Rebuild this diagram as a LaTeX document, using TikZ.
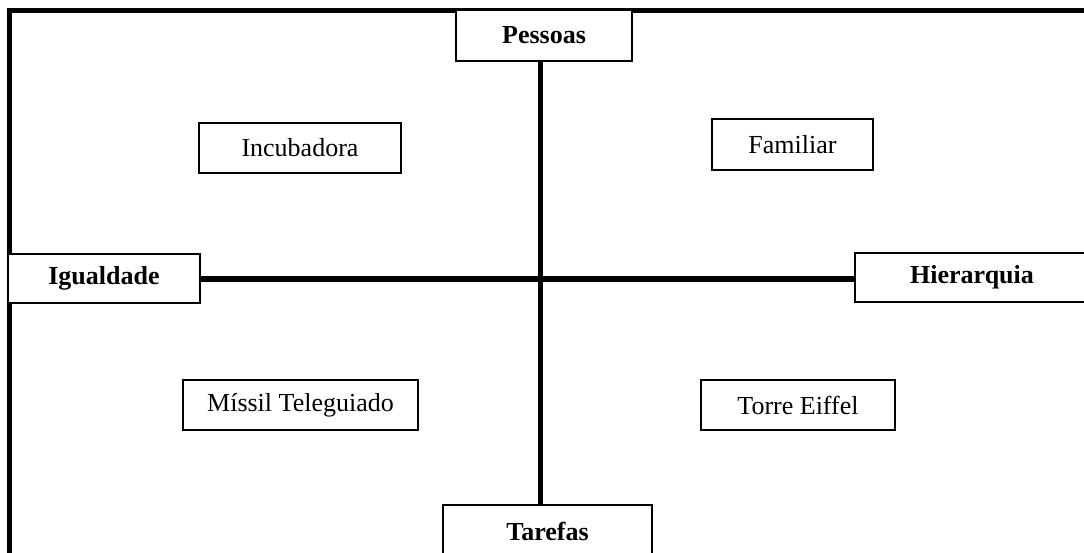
\documentclass[tikz,border=0pt]{standalone}
\usepackage{fontspec}
\setmainfont{Liberation Serif}
\begin{document}
\begin{tikzpicture}[x=1pt,y=-1pt,
  box/.style={draw=black,line width=1.3pt,fill=white,inner sep=0pt,font=\fontsize{26}{30}\selectfont},
  axisbox/.style={box,font=\fontsize{26}{30}\selectfont\bfseries},
  axisline/.style={line width=5.2pt,black},
  frameline/.style={line width=5pt,black}]
\useasboundingbox (0,0) rectangle (1084,553);
\clip (0,0) rectangle (1084,553);
\coordinate (fbl) at (9.5,560);
\coordinate (ftl) at (9.5,10.5);
\coordinate (ftr) at (1090,10.5);
\draw[frameline] (fbl) -- (ftl) -- (ftr);
% axis boxes
\node[axisbox,minimum width=176pt,minimum height=51pt] (pessoas) at (544,35.5) {Pessoas};
\node[axisbox,minimum width=209pt,minimum height=52pt] (tarefas) at (547.5,531) {Tarefas};
\node[axisbox,minimum width=192pt,minimum height=49pt] (igualdade) at (104,278.5) {Igualdade};
\node[axisbox,minimum width=234pt,minimum height=49pt] (hierarquia) at (972,277.5) {Hierarquia};
% axes
\draw[axisline] (pessoas.south -| 540.7,0) -- (tarefas.north -| 540.7,0);
\draw[axisline] (igualdade.east |- 0,279) -- (hierarquia.west |- 0,279);
% quadrant boxes
\node[box,minimum width=202pt,minimum height=50pt] (incubadora) at (300,148) {Incubadora};
\node[box,minimum width=161pt,minimum height=51pt] (familiar) at (792.5,144.5) {Familiar};
\node[box,minimum width=235pt,minimum height=50pt] (missil) at (300.5,405) {Míssil Teleguiado};
\node[box,minimum width=194pt,minimum height=50pt] (torre) at (798,405) {Torre Eiffel};
\end{tikzpicture}
\end{document}
